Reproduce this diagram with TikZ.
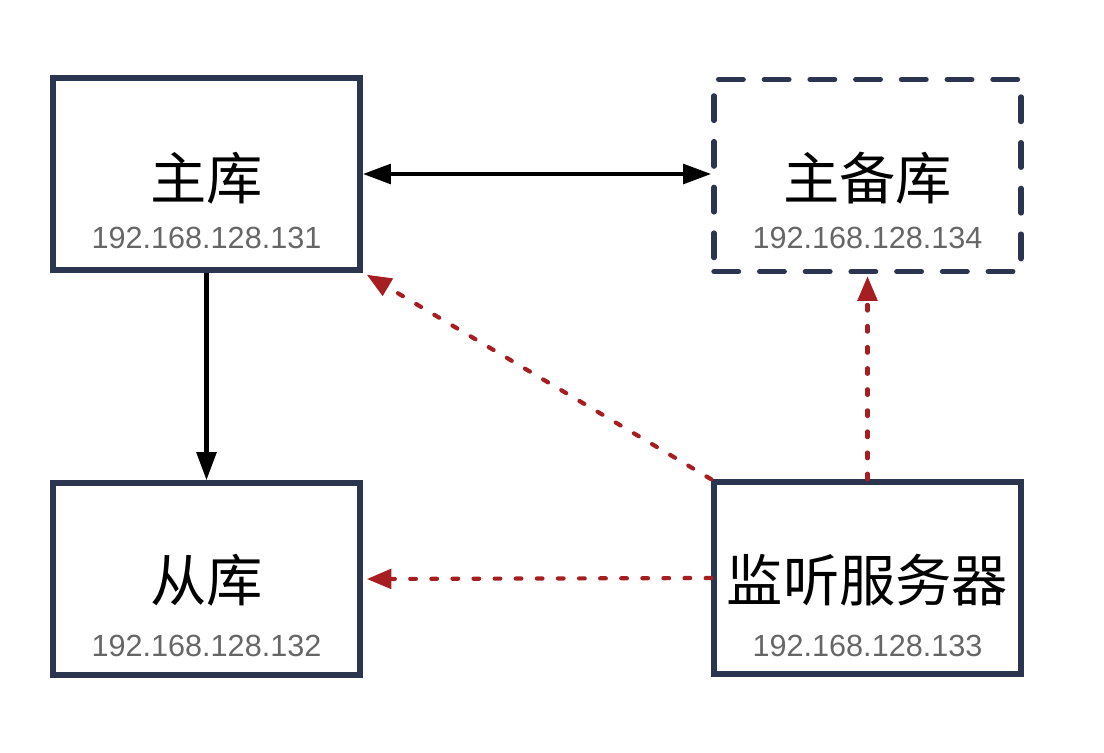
\documentclass[tikz,border=0pt]{standalone}
\usepackage{fontspec}
\setmainfont{Liberation Sans}
\newfontfamily\cjk{Noto Sans CJK SC}
\usetikzlibrary{arrows.meta,calc}
\definecolor{boxline}{HTML}{2B3550}
\definecolor{watchred}{HTML}{A61E22}
\definecolor{iptext}{HTML}{666666}
\tikzset{
  dbbox/.style={draw=boxline, line width=1.5pt, minimum width=3.07cm, minimum height=1.92cm, inner sep=0pt},
  sparebox/.style={dbbox, dashed, dash pattern=on 7pt off 6pt, line cap=round},
  title/.style={font=\cjk\fontsize{16}{18}\selectfont, inner sep=0pt},
  ip/.style={font=\fontsize{8.7}{10}\selectfont, text=iptext, inner sep=0pt},
  sync/.style={line width=1.3pt, -{Triangle[length=8pt,width=5.5pt]}},
  watch/.style={watchred, line width=1.2pt, dash pattern=on 1.6pt off 4.4pt, line cap=round,
    -{Triangle[length=7pt,width=5.5pt]}}
}
\begin{document}
\begin{tikzpicture}[x=0.01cm, y=-0.01cm]
    \useasboundingbox (0,0) rectangle (1104,752);

    % 四个服务器
    \node[dbbox] (master) at (206.5,174) {};
    \node[sparebox] (spare) at (867.5,175.5) {};
    \node[dbbox] (slave) at (206.5,579) {};
    \node[dbbox] (monitor) at (867.5,578) {};

    % 名称与地址
    \node[title] (masterT) at ($(master.center)+(0,4)$) {主库};
    \node[ip] (masterIP) at ($(master.center)+(0,64)$) {192.168.128.131};
    \node[title] (spareT) at ($(spare.center)+(0,3)$) {主备库};
    \node[ip] (spareIP) at ($(spare.center)+(0,62)$) {192.168.128.134};
    \node[title] (slaveT) at ($(slave.center)+(0,1)$) {从库};
    \node[ip] (slaveIP) at ($(slave.center)+(0,67)$) {192.168.128.132};
    \node[title] (monitorT) at ($(monitor.center)+(0,2)$) {监听服务器};
    \node[ip] (monitorIP) at ($(monitor.center)+(0,68)$) {192.168.128.133};

    % 复制关系
    \draw[sync, {Triangle[length=8pt,width=5.5pt]}-{Triangle[length=8pt,width=5.5pt]}]
        (master.east) -- (master.east -| spare.west);
    \draw[sync] (master.south) -- (slave.north);

    % 监听
    \draw[watch] (monitor.north west) -- ($(master.south east)+(4,2)$);
    \draw[watch] (monitor.north) -- ($(spare.south)+(0,2)$);
    \draw[watch] (monitor.west) -- ($(slave.east)+(4,0)$);
\end{tikzpicture}
\end{document}
